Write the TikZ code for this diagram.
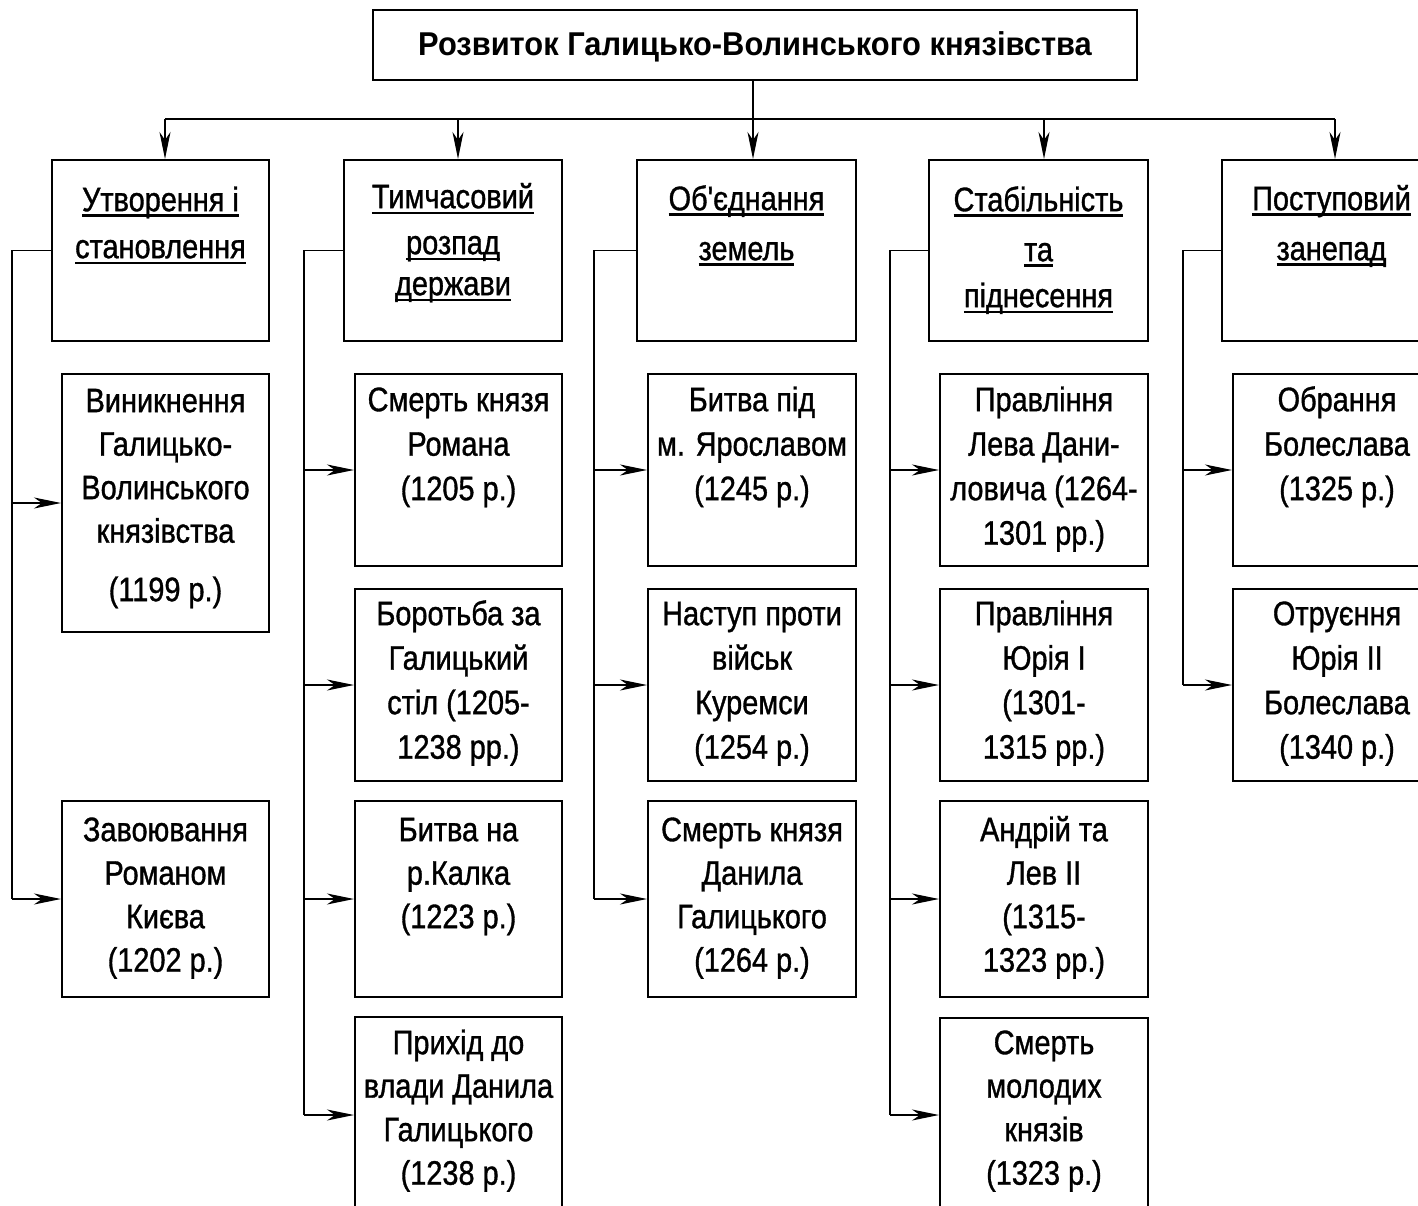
\documentclass[tikz,border=0pt]{standalone}
\usepackage{fontspec}
\setmainfont{Liberation Sans}[FakeStretch=0.85, FakeBold=1.0, Ligatures=TeXOff]
\newfontfamily\titlefont{Liberation Sans}[FakeStretch=0.935, Ligatures=TeXOff]
\usetikzlibrary{arrows.meta}
\newcommand\hul[1]{\setbox0=\hbox{#1}\rlap{\rule[-5.5pt]{\wd0}{2.2pt}}\box0}
\newcommand\fl{\rule{0pt}{33pt}}
\begin{document}
\begin{tikzpicture}[x=1pt, y=-1pt,
  box/.style={draw, line width=2pt, anchor=north west, inner sep=0pt},
  txt/.style={font=\fontsize{34}{43.5}\selectfont, align=center, anchor=north, inner sep=0pt},
  htxt/.style={font=\fontsize{34}{45}\selectfont, align=center, anchor=north, inner sep=0pt},
  ttl/.style={font=\titlefont\fontsize{33}{40}\selectfont\bfseries, inner sep=0pt},
  conn/.style={line width=1.8pt},
  arr/.style={conn, -{Stealth[length=27pt, width=11pt, inset=8pt]}}]
\useasboundingbox (0,0) rectangle (1418,1206);

% title
\node[box, minimum width=764pt, minimum height=70pt] (title) at (372,9) {};
\node[ttl] (titletext) at ([yshift=-2pt]title.center) {Розвиток Галицько-Волинського князівства};

% bus coordinates
\coordinate (bus1) at (165,119);
\coordinate (bus2) at (458,119);
\coordinate (bus3) at (753,119);
\coordinate (bus4) at (1044,119);
\coordinate (bus5) at (1335,119);

% headers
\node[box, minimum width=217pt, minimum height=181pt] (h1) at (51,159) {};
\node[box, minimum width=218pt, minimum height=181pt] (h2) at (343,159) {};
\node[box, minimum width=219pt, minimum height=181pt] (h3) at (636,159) {};
\node[box, minimum width=219pt, minimum height=181pt] (h4) at (928,159) {};
\node[box, minimum width=219pt, minimum height=181pt] (h5) at (1221,159) {};

\node[htxt] (h1t) at ([yshift=-19pt]h1.north) {\fl\hul{Утворення і}\\[2pt]\hul{становлення}};
\node[htxt] (h2t) at ([yshift=-16pt]h2.north) {\fl\hul{Тимчасовий}\\[1pt]\hul{розпад}\\[-4pt]\hul{держави}};
\node[htxt] (h3t) at ([yshift=-18pt]h3.north) {\fl\hul{Об'єднання}\\[5pt]\hul{земель}};
\node[htxt] (h4t) at ([yshift=-19pt]h4.north) {\fl\hul{Стабільність}\\[5pt]\hul{та}\\[1pt]\hul{піднесення}};
\node[htxt] (h5t) at ([yshift=-18pt]h5.north) {\fl\hul{Поступовий}\\[5pt]\hul{занепад}};

% column 1
\node[box, minimum width=207pt, minimum height=258pt] (c1a) at (61,373) {};
\node[box, minimum width=207pt, minimum height=196pt] (c1b) at (61,800) {};
\node[txt] (c1at) at ([yshift=-6pt]c1a.north) {\fl Виникнення\\Галицько-\\Волинського\\князівства\\[15pt](1199 р.)};
\node[txt] (c1bt) at ([yshift=-8pt]c1b.north) {\fl Завоювання\\Романом\\Києва\\(1202 р.)};

% column 2
\node[box, minimum width=207pt, minimum height=192pt] (c2a) at (354,373) {};
\node[box, minimum width=207pt, minimum height=192pt] (c2b) at (354,588) {};
\node[box, minimum width=207pt, minimum height=196pt] (c2c) at (354,800) {};
\node[box, minimum width=207pt, minimum height=198pt] (c2d) at (354,1016) {};
\node[txt] (c2at) at ([yshift=-5pt]c2a.north) {\fl Смерть князя\\[1pt]Романа\\[1pt](1205 р.)};
\node[txt] (c2bt) at ([yshift=-4pt]c2b.north) {\fl Боротьба за\\[1pt]Галицький\\[1pt]стіл (1205-\\[1pt]1238 рр.)};
\node[txt] (c2ct) at ([yshift=-8pt]c2c.north) {\fl Битва на\\р.Калка\\(1223 р.)};
\node[txt] (c2dt) at ([yshift=-5pt]c2d.north) {\fl Прихід до\\влади Данила\\Галицького\\(1238 р.)};

% column 3
\node[box, minimum width=208pt, minimum height=192pt] (c3a) at (647,373) {};
\node[box, minimum width=208pt, minimum height=192pt] (c3b) at (647,588) {};
\node[box, minimum width=208pt, minimum height=196pt] (c3c) at (647,800) {};
\node[txt] (c3at) at ([yshift=-5pt]c3a.north) {\fl Битва під\\[1pt]м. Ярославом\\[1pt](1245 р.)};
\node[txt] (c3bt) at ([yshift=-4pt]c3b.north) {\fl Наступ проти\\[1pt]військ\\[1pt]Куремси\\[1pt](1254 р.)};
\node[txt] (c3ct) at ([yshift=-8pt]c3c.north) {\fl Смерть князя\\Данила\\Галицького\\(1264 р.)};

% column 4
\node[box, minimum width=208pt, minimum height=192pt] (c4a) at (939,373) {};
\node[box, minimum width=208pt, minimum height=192pt] (c4b) at (939,588) {};
\node[box, minimum width=208pt, minimum height=196pt] (c4c) at (939,800) {};
\node[box, minimum width=208pt, minimum height=196pt] (c4d) at (939,1017) {};
\node[txt] (c4at) at ([yshift=-5pt]c4a.north) {\fl Правління\\[1pt]Лева Дани-\\[1pt]ловича (1264-\\[1pt]1301 рр.)};
\node[txt] (c4bt) at ([yshift=-4pt]c4b.north) {\fl Правління\\[1pt]Юрія I\\[1pt](1301-\\[1pt]1315 рр.)};
\node[txt] (c4ct) at ([yshift=-8pt]c4c.north) {\fl Андрій та\\Лев II\\(1315-\\1323 рр.)};
\node[txt] (c4dt) at ([yshift=-4pt]c4d.north) {\fl Смерть\\молодих\\князів\\(1323 р.)};

% column 5
\node[box, minimum width=208pt, minimum height=192pt] (c5a) at (1232,373) {};
\node[box, minimum width=208pt, minimum height=192pt] (c5b) at (1232,588) {};
\node[txt] (c5at) at ([yshift=-5pt]c5a.north) {\fl Обрання\\[1pt]Болеслава\\[1pt](1325 р.)};
\node[txt] (c5bt) at ([yshift=-4pt]c5b.north) {\fl Отруєння\\[1pt]Юрія II\\[1pt]Болеслава\\[1pt](1340 р.)};

% title to bus
\draw[conn] (title.south -| bus3) -- (bus3);
\draw[conn] (bus1) -- (bus5);
\foreach \i in {1,...,5} {
  \draw[arr] (bus\i) -- (bus\i |- h\i.north);
}

% branch trunks
\coordinate (br1) at (12,0);
\coordinate (br2) at (304,0);
\coordinate (br3) at (594,0);
\coordinate (br4) at (890,0);
\coordinate (br5) at (1183,0);

\draw[conn] (h1.west) -- (h1.west -| br1) -- (br1 |- c1b.west);
\draw[arr] (br1 |- c1a.west) -- (c1a.west);
\draw[arr] (br1 |- c1b.west) -- (c1b.west);

\coordinate (r4) at (0,1115);
\draw[conn] (h2.west) -- (h2.west -| br2) -- (br2 |- r4);
\draw[arr] (br2 |- c2a.west) -- (c2a.west);
\draw[arr] (br2 |- c2b.west) -- (c2b.west);
\draw[arr] (br2 |- c2c.west) -- (c2c.west);
\draw[arr] (br2 |- r4) -- (c2d.west |- r4);

\draw[conn] (h3.west) -- (h3.west -| br3) -- (br3 |- c3c.west);
\draw[arr] (br3 |- c3a.west) -- (c3a.west);
\draw[arr] (br3 |- c3b.west) -- (c3b.west);
\draw[arr] (br3 |- c3c.west) -- (c3c.west);

\draw[conn] (h4.west) -- (h4.west -| br4) -- (br4 |- r4);
\draw[arr] (br4 |- c4a.west) -- (c4a.west);
\draw[arr] (br4 |- c4b.west) -- (c4b.west);
\draw[arr] (br4 |- c4c.west) -- (c4c.west);
\draw[arr] (br4 |- r4) -- (c4d.west |- r4);

\draw[conn] (h5.west) -- (h5.west -| br5) -- (br5 |- c5b.west);
\draw[arr] (br5 |- c5a.west) -- (c5a.west);
\draw[arr] (br5 |- c5b.west) -- (c5b.west);
\end{tikzpicture}
\end{document}
